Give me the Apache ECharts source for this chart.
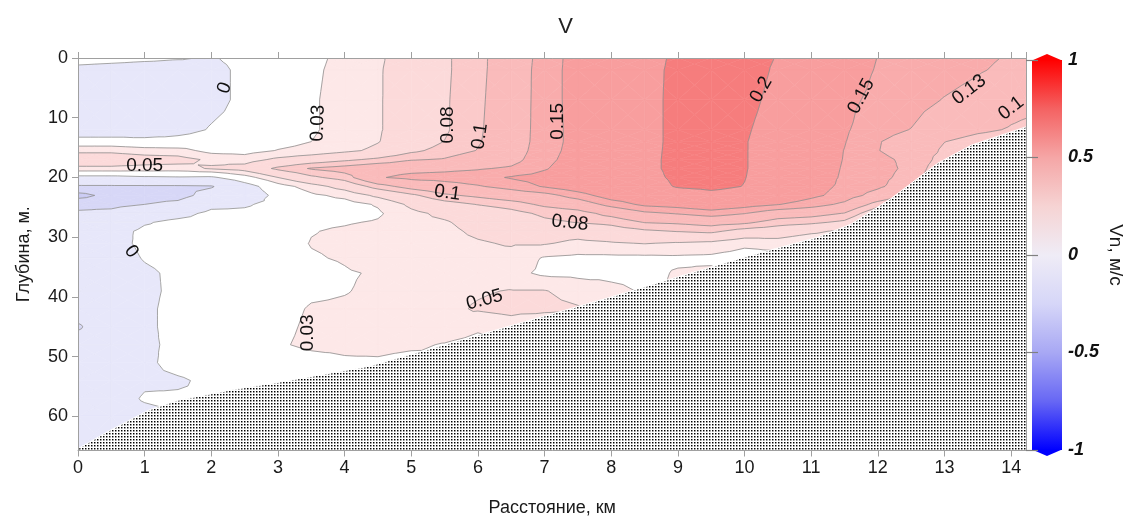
<!DOCTYPE html>
<html><head><meta charset="utf-8">
<script src="https://cdn.jsdelivr.net/npm/echarts@6/dist/echarts.min.js"></script>
<style>html,body{margin:0;padding:0;background:#fff}#c{width:1131px;height:518px}</style>
</head><body><div id="c"></div>
<script>
// ---------------- DATA ----------------
// stations along the section (km) and sampling depths (m)
const stationsKm = [0,0.5,1,1.5,2,2.5,3,3.5,4,4.5,5,5.5,6,6.5,7,7.5,8,8.5,9,9.5,10,10.5,11,11.5,12,12.5,13,13.5,14,14.23];
const depthsM = [0,2,7,12,14,15.5,17,18.5,20,21.5,23,24.5,26,27.5,29,31,33.5,36,39,42,45,48,51,54,57,60,65.7];
// velocity profiles Vn (cm/s) at each station, ordered by depthsM
const p0_0  = [1.0,-0.7,-2,-2.5,1.5,4.5,6.5,4.5,-1,-5.5,-9,-6,-4.5,-3,-2.5,-2.5,-2.5,-2.5,-2.5,-3,-5.5,-3,-2.5,-2.5,-2,-2,-2];
const p0_5  = [0.8,-1.0,-2,-2.5,1.5,4.5,6.5,4.5,-1,-5.5,-7,-6,-4,-2.5,-1.2,-1,-1.5,-2,-2,-2,-2,-2,-2,-2,-1.5,-1.5,-1.5];
const p1_0  = [0.5,-1.2,-2,-2,1.0,4.0,6.0,4.3,-0.5,-5.5,-6.5,-5,-2,-0.3,0.6,0.6,0.2,-0.5,-0.6,-0.5,-0.5,-0.5,-0.5,-0.5,0.3,-1,-1];
const p1_5  = [0.2,-1.2,-1.8,-1.0,1.0,3.8,5.8,4.2,-0.3,-5.5,-6.3,-4,-1.2,0.8,1.0,1.0,1.0,0.6,0.6,0.8,0.8,0.6,0.8,-0.3,0.3,0.3,0.3];
const p2_0  = [-0.2,-0.8,-0.8,0.2,1.5,2.3,4.6,5.2,-0.5,-5.3,-3.5,-1.0,0.8,1.2,1.5,1.5,1.5,1.5,1.5,1.5,1.5,1.5,1.2,0.5,0.3,0.3,0.3];
const p2_5  = [0.7,0.6,0.6,0.9,1.2,2.2,4.0,6.0,2.0,-1.5,-2.0,-0.3,0.5,0.8,1.0,1.2,1.2,1.0,1.0,1.0,1.0,1.0,1.0,0.8,0.5,0.5,0.5];
const p3_0  = [1.8,1.8,1.8,1.8,2.3,3.1,5.5,8.5,5.0,2.0,0.8,0.8,1.0,1.2,1.5,2.0,1.8,1.5,1.8,2.2,2.4,2.7,1.5,1.2,1,1,1];
const p3_5  = [2.6,2.7,2.8,2.8,3.0,3.6,6.5,10.2,7.5,4.0,2.6,2.0,2.2,2.6,2.9,3.1,2.8,2.2,2.6,3.2,3.4,3.5,2.0,1.5,1.5,1.5,1.5];
const p4_0  = [3.4,3.5,3.6,3.6,3.8,4.5,7.5,11.0,9.0,6.0,3.5,2.2,2.0,2.8,3.3,3.4,3.2,2.8,2.9,3.3,3.5,3.6,2.6,2,2,2,2];
const p4_5  = [4.7,4.8,4.8,4.8,4.9,5.5,8.5,12.0,12.8,9.0,5.5,3.2,2.7,3.2,3.8,4.0,4.0,3.2,3.4,3.6,3.8,3.8,2.6,2,2,2,2];
const p5_0  = [6.1,6.1,6.2,6.2,6.5,7.5,9.8,12.3,13.6,11.0,7.5,5.5,4.5,4.5,4.5,4.3,4.2,4.0,4.0,4.0,4.6,3.5,2.0,2,2,2,2];
const p5_5  = [7.6,7.6,7.7,7.7,8.05,8.8,10.2,12.5,13.8,12.0,9.6,7.0,5.5,4.8,4.5,4.3,4.3,4.3,4.5,4.5,4.8,2.8,2.5,2,2,2,2];
const p6_0  = [9.5,9.5,9.6,9.7,9.8,10.1,11.5,12.8,14.2,12.8,10.5,8.1,6.2,5.8,5.4,4.8,4.4,4.2,4.8,5.2,3.5,2.0,2,2,2,2,2];
const p6_5  = [11.2,11.3,11.4,11.5,11.6,11.8,12.2,13.3,15.2,13.8,11.5,9.0,7.2,6.2,5.8,5.2,4.3,3.6,5.1,5.6,4.0,3.1,3.1,3.1,3.1,3.1,3.1];
const p7_0  = [14.0,14.1,14.1,14.1,14.1,14.2,14.4,14.8,15.8,15.2,12.2,10.5,8.5,7.5,6.2,5.2,2.8,2.6,5.1,5.5,3.1,3.1,3.1,3.1,3.1,3.1,3.1];
const p7_5  = [15.8,15.8,15.8,15.7,15.7,15.8,16.0,16.4,16.8,16.5,14.0,11.5,9.1,8.1,6.0,4.5,2.5,2.5,4.2,5.2,3.1,3.1,3.1,3.1,3.1,3.1,3.1];
const p8_0  = [17.5,17.5,17.4,17.3,17.4,17.6,18.0,18.6,18.8,18.0,16.2,13.8,10.8,8.6,6.8,4.8,2.5,2.5,3.5,4.0,4,4,4,4,4,4,4];
const p8_5  = [18.8,19.0,19.0,19.0,19.0,19.1,19.2,19.3,19.0,18.4,17.0,15.5,12.5,10.1,7.6,5.1,2.5,2.4,2.8,2.8,2.8,2.8,2.8,2.8,2.8,2.8,2.8];
const p9_0  = [20.6,20.7,20.8,20.8,20.8,20.8,20.8,20.7,20.6,20.3,18.0,16.0,13.2,10.4,8.1,4.8,2.6,3.2,3.1,3.1,3.1,3.1,3.1,3.1,3.1,3.1,3.1];
const p9_5  = [21.5,21.8,21.8,21.7,21.6,21.6,21.6,21.5,21.4,20.8,19.0,16.8,14.0,11.0,8.5,4.5,2.5,3.5,3.1,3.1,3.1,3.1,3.1,3.1,3.1,3.1,3.1];
const p10_0 = [21.5,21.5,21.0,20.4,20.2,20.2,20.2,20.2,20.1,19.9,18.5,16.0,13.1,10.5,7.0,3.5,2.0,2,2,2,2,2,2,2,2,2,2];
const p10_5 = [19.8,19.5,19.0,18.5,18.3,18.2,18.2,18.2,18.0,17.5,16.8,15.1,11.5,9.0,6.5,4.0,2.0,2,2,2,2,2,2,2,2,2,2];
const p11_0 = [18.0,17.8,17.3,16.8,16.6,16.5,16.4,16.3,16.2,15.8,15.5,14.0,11.0,8.5,5.5,3.1,2,2,2,2,2,2,2,2,2,2,2];
const p11_5 = [16.5,16.3,15.6,15.3,15.1,14.95,14.9,14.8,14.7,14.6,14.2,12.5,9.9,7.5,4.5,3.1,3.1,3.1,3.1,3.1,3.1,3.1,3.1,3.1,3.1,3.1,3.1];
const p12_0 = [14.95,14.8,14.4,13.6,13.1,13.05,13.4,13.6,13.6,13.4,12.0,9.0,6.0,4,3.1,3.1,3.1,3.1,3.1,3.1,3.1,3.1,3.1,3.1,3.1,3.1,3.1];
const p12_5 = [14.5,14.3,13.8,12.95,12.2,12.2,12.6,12.6,12.2,11.5,9.5,7,5.1,4,3.1,3.1,3.1,3.1,3.1,3.1,3.1,3.1,3.1,3.1,3.1,3.1,3.1];
const p13_0 = [14.0,13.8,12.9,11.5,10.05,9.5,8.5,7,6,5.5,5.5,5.5,5.5,5.5,5.5,5.5,5.5,5.5,5.5,5.5,5.5,5.5,5.5,5.5,5.5,5.5,5.5];
const p13_5 = [13.4,13.2,12.2,10.5,9.0,8.5,7,6,5.5,5.5,5.5,5.5,5.5,5.5,5.5,5.5,5.5,5.5,5.5,5.5,5.5,5.5,5.5,5.5,5.5,5.5,5.5];
const p14_0 = [12.8,12.5,11.0,9.8,8.5,8.5,8.5,8.5,8.5,8.5,8.5,8.5,8.5,8.5,8.5,8.5,8.5,8.5,8.5,8.5,8.5,8.5,8.5,8.5,8.5,8.5,8.5];
const p14_23= [12.5,12.2,10.8,9.5,8.5,8.5,8.5,8.5,8.5,8.5,8.5,8.5,8.5,8.5,8.5,8.5,8.5,8.5,8.5,8.5,8.5,8.5,8.5,8.5,8.5,8.5,8.5];
const profiles = [p0_0,p0_5,p1_0,p1_5,p2_0,p2_5,p3_0,p3_5,p4_0,p4_5,p5_0,p5_5,p6_0,p6_5,p7_0,p7_5,p8_0,p8_5,p9_0,p9_5,p10_0,p10_5,p11_0,p11_5,p12_0,p12_5,p13_0,p13_5,p14_0,p14_23];

// contour levels (cm/s)
const contourLevels = [-8,-5,0,3,5,8,10,13,15,20];

// sea bottom
const bottomKm     = [0,0.5,1.07,1.5,2.33,3,4.37,5,6,7,8,8.62,10.07,11.1,11.6,12.2,12.9,13.4,14.23];
const bottomDepthM = [65.4,62.2,58.9,57.3,55.5,54.3,51.6,49.6,46.4,43.2,40.0,37.9,33.1,30.0,27.8,23.5,17.6,14.6,11.5];

// contour labels
const labelKm    = [2.2, 3.6, 1.0, 5.54, 6.03, 7.2, 10.25, 11.75, 13.37, 14.0, 5.54, 7.38, 0.8, 3.45, 6.1];
const labelDepth = [5.0, 10.9, 18.1, 11.2, 13.1, 10.6, 5.3, 6.4, 5.3, 8.4, 22.6, 27.6, 32.4, 46.0, 40.5];
const labelText  = ['0','0.03','0.05','0.08','0.1','0.15','0.2','0.15','0.13','0.1','0.1','0.08','0','0.03','0.05'];
const labelAngle = [70, 88, 0, 90, 82, 90, 60, 62, 38, 38, -8, -6, -55, 90, 15];

// colour scale (m/s)
const scaleMin = -1, scaleMax = 1, scaleStep = 0.5;

// ---------------- STYLE ----------------
const FONT = '"Liberation Sans", Arial, sans-serif';
const bandColors = ['#c9c9f3','#d7d7f7','#e7e7fa','#ffffff','#fde8e8','#fcdada','#fbcaca','#fabbbb','#f9acac','#f89e9e','#f67d7d'];
const barStops = [[1,'#ff0000'],[0.75,'#f46262'],[0.5,'#f5a6a6'],[0.25,'#f6d3d3'],[0,'#efecf6'],[-0.25,'#d6d6f8'],[-0.5,'#a8a8f4'],[-0.75,'#6767f4'],[-1,'#0000ff']];

// ---------------- CONTOURING (triangulated iso-bands) ----------------
function clipHalf(poly, f) {
  const res = [];
  for (let k = 0; k < poly.length; k++) {
    const a = poly[k], b = poly[(k + 1) % poly.length];
    const fa = f(a), fb = f(b);
    if (fa >= 0) res.push(a);
    if ((fa >= 0) !== (fb >= 0)) {
      const t = fa / (fa - fb);
      res.push([a[0] + t * (b[0] - a[0]), a[1] + t * (b[1] - a[1]), a[2] + t * (b[2] - a[2])]);
    }
  }
  return res;
}
const bandPolys = [];   // {band, pts}
const levelSegs = [];   // [[x,z],[x,z]]
for (let i = 0; i < stationsKm.length - 1; i++) {
  for (let j = 0; j < depthsM.length - 1; j++) {
    const a = [stationsKm[i], depthsM[j], profiles[i][j]];
    const b = [stationsKm[i + 1], depthsM[j], profiles[i + 1][j]];
    const c = [stationsKm[i + 1], depthsM[j + 1], profiles[i + 1][j + 1]];
    const d = [stationsKm[i], depthsM[j + 1], profiles[i][j + 1]];
    const m = [(a[0] + b[0]) / 2, (a[1] + d[1]) / 2, (a[2] + b[2] + c[2] + d[2]) / 4];
    const tris = [[a, b, m], [b, c, m], [c, d, m], [d, a, m]];
    for (const tri of tris) {
      const vmin = Math.min(tri[0][2], tri[1][2], tri[2][2]);
      const vmax = Math.max(tri[0][2], tri[1][2], tri[2][2]);
      for (let bnd = 0; bnd <= contourLevels.length; bnd++) {
        const lo = bnd === 0 ? -Infinity : contourLevels[bnd - 1];
        const hi = bnd === contourLevels.length ? Infinity : contourLevels[bnd];
        if (vmax < lo || vmin > hi) continue;
        let poly = tri;
        if (isFinite(lo)) poly = clipHalf(poly, p => p[2] - lo);
        if (poly.length >= 3 && isFinite(hi)) poly = clipHalf(poly, p => hi - p[2]);
        if (poly.length >= 3) bandPolys.push({ band: bnd, pts: poly });
      }
      for (const L of contourLevels) {
        if (vmax < L || vmin > L) continue;
        const pts = [];
        for (let k = 0; k < 3; k++) {
          const p = tri[k], q = tri[(k + 1) % 3];
          const fp = p[2] - L, fq = q[2] - L;
          if ((fp >= 0) !== (fq >= 0)) {
            const t = fp / (fp - fq);
            pts.push([p[0] + t * (q[0] - p[0]), p[1] + t * (q[1] - p[1])]);
          }
        }
        if (pts.length === 2) levelSegs.push(pts);
      }
    }
  }
}

// dotted pattern for the sea bottom
const pat = document.createElement('canvas');
pat.width = 3; pat.height = 3;
(function () {
  const g = pat.getContext('2d');
  g.fillStyle = '#ffffff'; g.fillRect(0, 0, 3, 3);
  g.fillStyle = '#000000'; g.fillRect(1, 1, 1, 1);
  g.fillStyle = '#8a8a8a'; g.fillRect(2, 1, 1, 1); g.fillRect(1, 2, 1, 1);
  g.fillStyle = '#c4c4c4'; g.fillRect(2, 2, 1, 1);
})();

const chart = echarts.init(document.getElementById('c'), null, { renderer: 'canvas' });
const axisGray = '#a0a0a0';

const option = {
  animation: false,
  backgroundColor: '#ffffff',
  title: { text: 'V', left: 'center', top: 11, textStyle: { fontSize: 22, fontWeight: 'normal', color: '#222', fontFamily: FONT } },
  grid: [
    { left: 78, top: 58, width: 948.5, height: 392.5, outerBoundsMode: 'none', containLabel: false },
    { left: 1032, top: 60, width: 30, height: 390, outerBoundsMode: 'none', containLabel: false }
  ],
  xAxis: [
    { type: 'value', gridIndex: 0, min: 0, max: 14.23, interval: 1, position: 'bottom', z: 6,
      axisLine: { show: true, onZero: false, lineStyle: { color: axisGray, width: 1 } },
      axisTick: { show: true, inside: false, length: 6, lineStyle: { color: axisGray } },
      axisLabel: { color: '#1a1a1a', fontSize: 18, fontFamily: FONT, margin: 9, showMaxLabel: false },
      splitLine: { show: false },
      name: 'Расстояние, км', nameLocation: 'middle', nameGap: 49,
      nameTextStyle: { fontSize: 18, color: '#1a1a1a', fontFamily: FONT } },
    { type: 'value', gridIndex: 0, min: 0, max: 14.23, interval: 1, position: 'top', z: 6,
      axisLine: { show: true, onZero: false, lineStyle: { color: axisGray, width: 1 } },
      axisTick: { show: true, inside: false, length: 6, lineStyle: { color: axisGray } },
      axisLabel: { show: false }, splitLine: { show: false } },
    { type: 'value', gridIndex: 1, min: 0, max: 1, show: false }
  ],
  yAxis: [
    { type: 'value', gridIndex: 0, min: 0, max: 65.7, interval: 10, inverse: true, position: 'left', z: 6,
      axisLine: { show: true, onZero: false, lineStyle: { color: axisGray, width: 1 } },
      axisTick: { show: true, inside: false, length: 6, lineStyle: { color: axisGray } },
      axisLabel: { color: '#1a1a1a', fontSize: 18, fontFamily: FONT, margin: 10, showMaxLabel: false,
                   formatter: v => (v % 10 === 0 ? String(v) : '') },
      splitLine: { show: false },
      name: 'Глубина, м.', nameLocation: 'middle', nameGap: 45, nameRotate: 90,
      nameTextStyle: { fontSize: 18, color: '#1a1a1a', fontFamily: FONT } },
    { type: 'value', gridIndex: 0, min: 0, max: 65.7, inverse: true, position: 'right', z: 6,
      axisLine: { show: true, onZero: false, lineStyle: { color: axisGray, width: 1 } },
      axisTick: { show: false }, axisLabel: { show: false }, splitLine: { show: false } },
    { type: 'value', gridIndex: 1, min: scaleMin, max: scaleMax, interval: scaleStep, position: 'right', z: 6,
      axisLine: { show: false },
      axisTick: { show: true, inside: true, length: 6, lineStyle: { color: '#808080', width: 1.2 } },
      axisLabel: { color: '#111', fontSize: 18, fontWeight: 'bold', fontStyle: 'italic', fontFamily: FONT, margin: 6 },
      splitLine: { show: false },
      name: 'Vn, м/с', nameLocation: 'middle', nameGap: 44, nameRotate: -90,
      nameTextStyle: { fontSize: 19, color: '#1a1a1a', fontFamily: FONT } },
    { type: 'value', gridIndex: 1, min: scaleMin, max: scaleMax, interval: scaleStep, position: 'left', z: 6,
      axisLine: { show: false },
      axisTick: { show: true, inside: true, length: 6, lineStyle: { color: '#808080', width: 1.2 } },
      axisLabel: { show: false }, splitLine: { show: false } }
  ],
  series: [
    { // filled contour bands
      type: 'custom', coordinateSystem: 'cartesian2d', xAxisIndex: 0, yAxisIndex: 0, z: 1, clip: true, silent: true,
      data: [[0, 0]],
      renderItem: function (params, api) {
        const children = bandPolys.map(p => {
          const pts = p.pts.map(q => api.coord([q[0], q[1]]));
          const col = bandColors[p.band];
          return { type: 'polygon', shape: { points: pts }, style: { fill: col, stroke: col, lineWidth: 0.6 } };
        });
        return { type: 'group', children };
      }
    },
    { // contour lines
      type: 'custom', coordinateSystem: 'cartesian2d', xAxisIndex: 0, yAxisIndex: 0, z: 2, clip: true, silent: true,
      data: [[0, 0]],
      renderItem: function (params, api) {
        let d = '';
        for (const s of levelSegs) {
          const a = api.coord(s[0]), b = api.coord(s[1]);
          d += 'M' + a[0].toFixed(2) + ' ' + a[1].toFixed(2) + 'L' + b[0].toFixed(2) + ' ' + b[1].toFixed(2);
        }
        return { type: 'path', shape: { pathData: d }, style: { fill: null, stroke: '#8e8e8e', lineWidth: 0.8 } };
      }
    },
    { // sea bottom
      type: 'custom', coordinateSystem: 'cartesian2d', xAxisIndex: 0, yAxisIndex: 0, z: 3, clip: true, silent: true,
      data: [[0, 0]],
      renderItem: function (params, api) {
        const pts = bottomKm.map((x, k) => api.coord([x, bottomDepthM[k]]));
        pts.push(api.coord([14.23, 65.7]));
        pts.push(api.coord([0, 65.7]));
        return { type: 'polygon', shape: { points: pts }, style: { fill: { image: pat, repeat: 'repeat' }, stroke: '#ffffff', lineWidth: 1 } };
      }
    },
    { // contour labels
      type: 'custom', coordinateSystem: 'cartesian2d', xAxisIndex: 0, yAxisIndex: 0, z: 4, clip: false, silent: true,
      data: [[0, 0]],
      renderItem: function (params, api) {
        const children = labelText.map((t, k) => {
          const p = api.coord([labelKm[k], labelDepth[k]]);
          return { type: 'text', x: p[0], y: p[1], rotation: labelAngle[k] * Math.PI / 180,
            style: { text: t, fill: '#111', fontSize: 19, fontFamily: FONT, align: 'center', verticalAlign: 'middle', textAlign: 'center', textVerticalAlign: 'middle' } };
        });
        return { type: 'group', children };
      }
    },
    { // colour bar
      type: 'custom', coordinateSystem: 'cartesian2d', xAxisIndex: 2, yAxisIndex: 2, z: 1, clip: false, silent: true,
      data: [[0, 0]],
      renderItem: function (params, api) {
        const tl = api.coord([0, scaleMax]), br = api.coord([1, scaleMin]);
        const w = br[0] - tl[0], h = br[1] - tl[1];
        const stops = barStops.map(s => ({ offset: (scaleMax - s[0]) / (scaleMax - scaleMin), color: s[1] }));
        return { type: 'group', children: [
          { type: 'rect', shape: { x: tl[0], y: tl[1], width: w, height: h },
            style: { fill: new echarts.graphic.LinearGradient(0, 0, 0, 1, stops) } },
          { type: 'polygon', shape: { points: [[tl[0], tl[1] + 0.5], [tl[0] + w / 2, tl[1] - 6], [br[0], tl[1] + 0.5]] }, style: { fill: barStops[0][1] } },
          { type: 'polygon', shape: { points: [[tl[0], br[1] - 0.5], [tl[0] + w / 2, br[1] + 6], [br[0], br[1] - 0.5]] }, style: { fill: barStops[barStops.length - 1][1] } }
        ] };
      }
    }
  ]
};
chart.setOption(option);
</script>
</body></html>
